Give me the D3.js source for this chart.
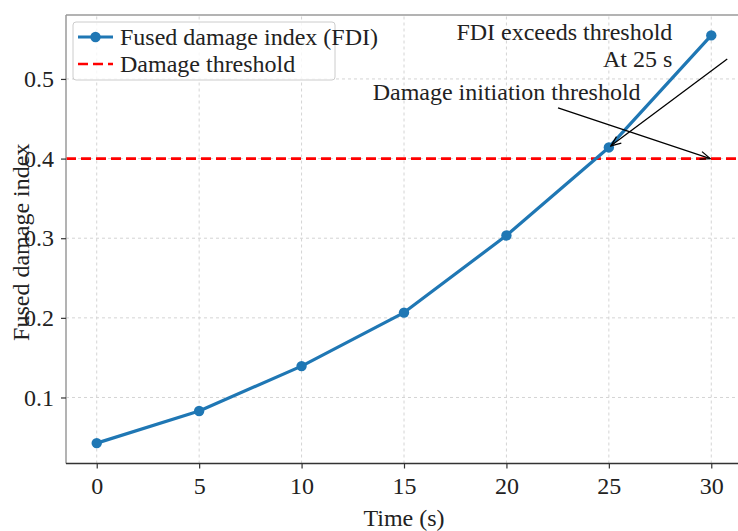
<!DOCTYPE html>
<html><head><meta charset="utf-8">
<script src="https://cdn.jsdelivr.net/npm/d3@7"></script>
<style>html,body{margin:0;padding:0;background:#fff;} svg{display:block;}</style>
</head><body>
<svg id="chart" width="738" height="531"></svg>
<script>
const times = [0, 5, 10, 15, 20, 25, 30];
const fdiValues = [0.0427, 0.083, 0.1394, 0.2066, 0.3034, 0.414, 0.5547];
const threshold = 0.4;
const xTicks = [0, 5, 10, 15, 20, 25, 30];
const yTicks = [0.1, 0.2, 0.3, 0.4, 0.5];
const seriesNames = ["Fused damage index (FDI)", "Damage threshold"];
const annotTexts = [["FDI exceeds threshold", "At 25 s"], ["Damage initiation threshold"]];
// annotation anchors in data units: [textX, textY, tailX, tailY, headX, headY]
const annotA = [28.1, 0.549, 30.78, 0.525, 25.1, 0.416];
const annotB = [13.47, 0.4735, 22.52, 0.4637, 29.95, 0.4];

const FONT = "'Liberation Serif','Times New Roman',serif";
const FS = 24;
const svg = d3.select("#chart");
const x = d3.scaleLinear().domain([-1.5, 31.5]).range([66, 742]);
const y = d3.scaleLinear().domain([0.0171, 0.5803]).range([463.5, 15]);
const [x0, x1] = x.range(), [y0, y1] = y.range();

// grid
const grid = svg.append("g");
grid.selectAll("line.gx").data(xTicks).join("line")
  .attr("x1", d => x(d)).attr("x2", d => x(d)).attr("y1", y0).attr("y2", y1)
  .attr("stroke", "#d4d4d4").attr("stroke-width", 1).attr("stroke-dasharray", "3,3");
grid.selectAll("line.gy").data(yTicks).join("line")
  .attr("x1", x0).attr("x2", x1).attr("y1", d => y(d)).attr("y2", d => y(d))
  .attr("stroke", "#d4d4d4").attr("stroke-width", 1).attr("stroke-dasharray", "3,3");

// threshold
svg.append("line").attr("x1", x0).attr("x2", x1).attr("y1", y(threshold)).attr("y2", y(threshold))
  .attr("stroke", "#ff0000").attr("stroke-width", 2.6).attr("stroke-dasharray", "10,5");

// series
const line = d3.line().x((d, i) => x(times[i])).y(d => y(d));
svg.append("path").datum(fdiValues).attr("d", line).attr("fill", "none")
  .attr("stroke", "#1f77b4").attr("stroke-width", 3.2).attr("stroke-linejoin", "round");
svg.selectAll("circle.pt").data(fdiValues).join("circle")
  .attr("cx", (d, i) => x(times[i])).attr("cy", d => y(d)).attr("r", 5.2).attr("fill", "#1f77b4");

// spines
svg.append("line").attr("x1", x0).attr("x2", x0).attr("y1", y0).attr("y2", y1).attr("stroke", "#9a9a9a").attr("stroke-width", 1.5);
svg.append("line").attr("x1", x0).attr("x2", x1).attr("y1", y1).attr("y2", y1).attr("stroke", "#9a9a9a").attr("stroke-width", 1.5);
svg.append("line").attr("x1", x0).attr("x2", x1).attr("y1", y0).attr("y2", y0).attr("stroke", "#333").attr("stroke-width", 1.5);

// axes
const xAxis = svg.append("g").attr("transform", `translate(0,${y0})`)
  .call(d3.axisBottom(x).tickValues(xTicks).tickSize(5).tickPadding(8).tickFormat(d3.format("d")));
const yAxis = svg.append("g").attr("transform", `translate(${x0},0)`)
  .call(d3.axisLeft(y).tickValues(yTicks).tickSize(5).tickPadding(7).tickFormat(d3.format(".1f")));
[xAxis, yAxis].forEach(a => {
  a.select(".domain").remove();
  a.selectAll(".tick line").attr("stroke", "#333").attr("stroke-width", 1.2);
  a.selectAll(".tick text").attr("font-family", FONT).attr("font-size", FS).attr("fill", "#222");
});

// axis labels
svg.append("text").attr("x", (x(0) + x(30)) / 2).attr("y", 526).attr("text-anchor", "middle")
  .attr("font-family", FONT).attr("font-size", FS).attr("fill", "#222").text("Time (s)");
svg.append("text").attr("transform", `translate(29,${(y0 + y1) / 2 + 3}) rotate(-90)`).attr("text-anchor", "middle")
  .attr("font-family", FONT).attr("font-size", FS).attr("fill", "#222").text("Fused damage index");

// arrows
const defs = svg.append("defs");
defs.append("marker").attr("id", "ah").attr("viewBox", "0 0 12 10").attr("refX", 11).attr("refY", 5)
  .attr("markerWidth", 12).attr("markerHeight", 10).attr("markerUnits", "userSpaceOnUse").attr("orient", "auto")
  .append("path").attr("d", "M1,1 L11,5 L1,9").attr("fill", "none").attr("stroke", "#000").attr("stroke-width", 1.3);
[annotA, annotB].forEach(a => {
  svg.append("line").attr("x1", x(a[2])).attr("y1", y(a[3])).attr("x2", x(a[4])).attr("y2", y(a[5]))
    .attr("stroke", "#000").attr("stroke-width", 1.3).attr("marker-end", "url(#ah)");
});
const tA = svg.append("text").attr("font-family", FONT).attr("font-size", FS).attr("fill", "#222").attr("text-anchor", "end");
annotTexts[0].forEach((s, i) => tA.append("tspan").attr("x", x(annotA[0])).attr("y", y(annotA[1]) + i * 27).text(s));
svg.append("text").attr("font-family", FONT).attr("font-size", FS).attr("fill", "#222")
  .attr("x", x(annotB[0])).attr("y", y(annotB[1])).text(annotTexts[1][0]);

// legend
const lg = svg.append("g");
lg.append("rect").attr("x", 73).attr("y", 22).attr("width", 262).attr("height", 58).attr("rx", 3)
  .attr("fill", "#fff").attr("fill-opacity", 0.8).attr("stroke", "#cccccc").attr("stroke-width", 1);
lg.append("line").attr("x1", 78).attr("x2", 113).attr("y1", 37).attr("y2", 37).attr("stroke", "#1f77b4").attr("stroke-width", 3.2);
lg.append("circle").attr("cx", 95.5).attr("cy", 37).attr("r", 5.2).attr("fill", "#1f77b4");
lg.append("line").attr("x1", 78).attr("x2", 113).attr("y1", 64).attr("y2", 64).attr("stroke", "#ff0000").attr("stroke-width", 2.6).attr("stroke-dasharray", "10,5");
seriesNames.forEach((s, i) => lg.append("text").attr("x", 120).attr("y", 45 + i * 27)
  .attr("font-family", FONT).attr("font-size", FS).attr("fill", "#222").text(s));
</script>
</body></html>
